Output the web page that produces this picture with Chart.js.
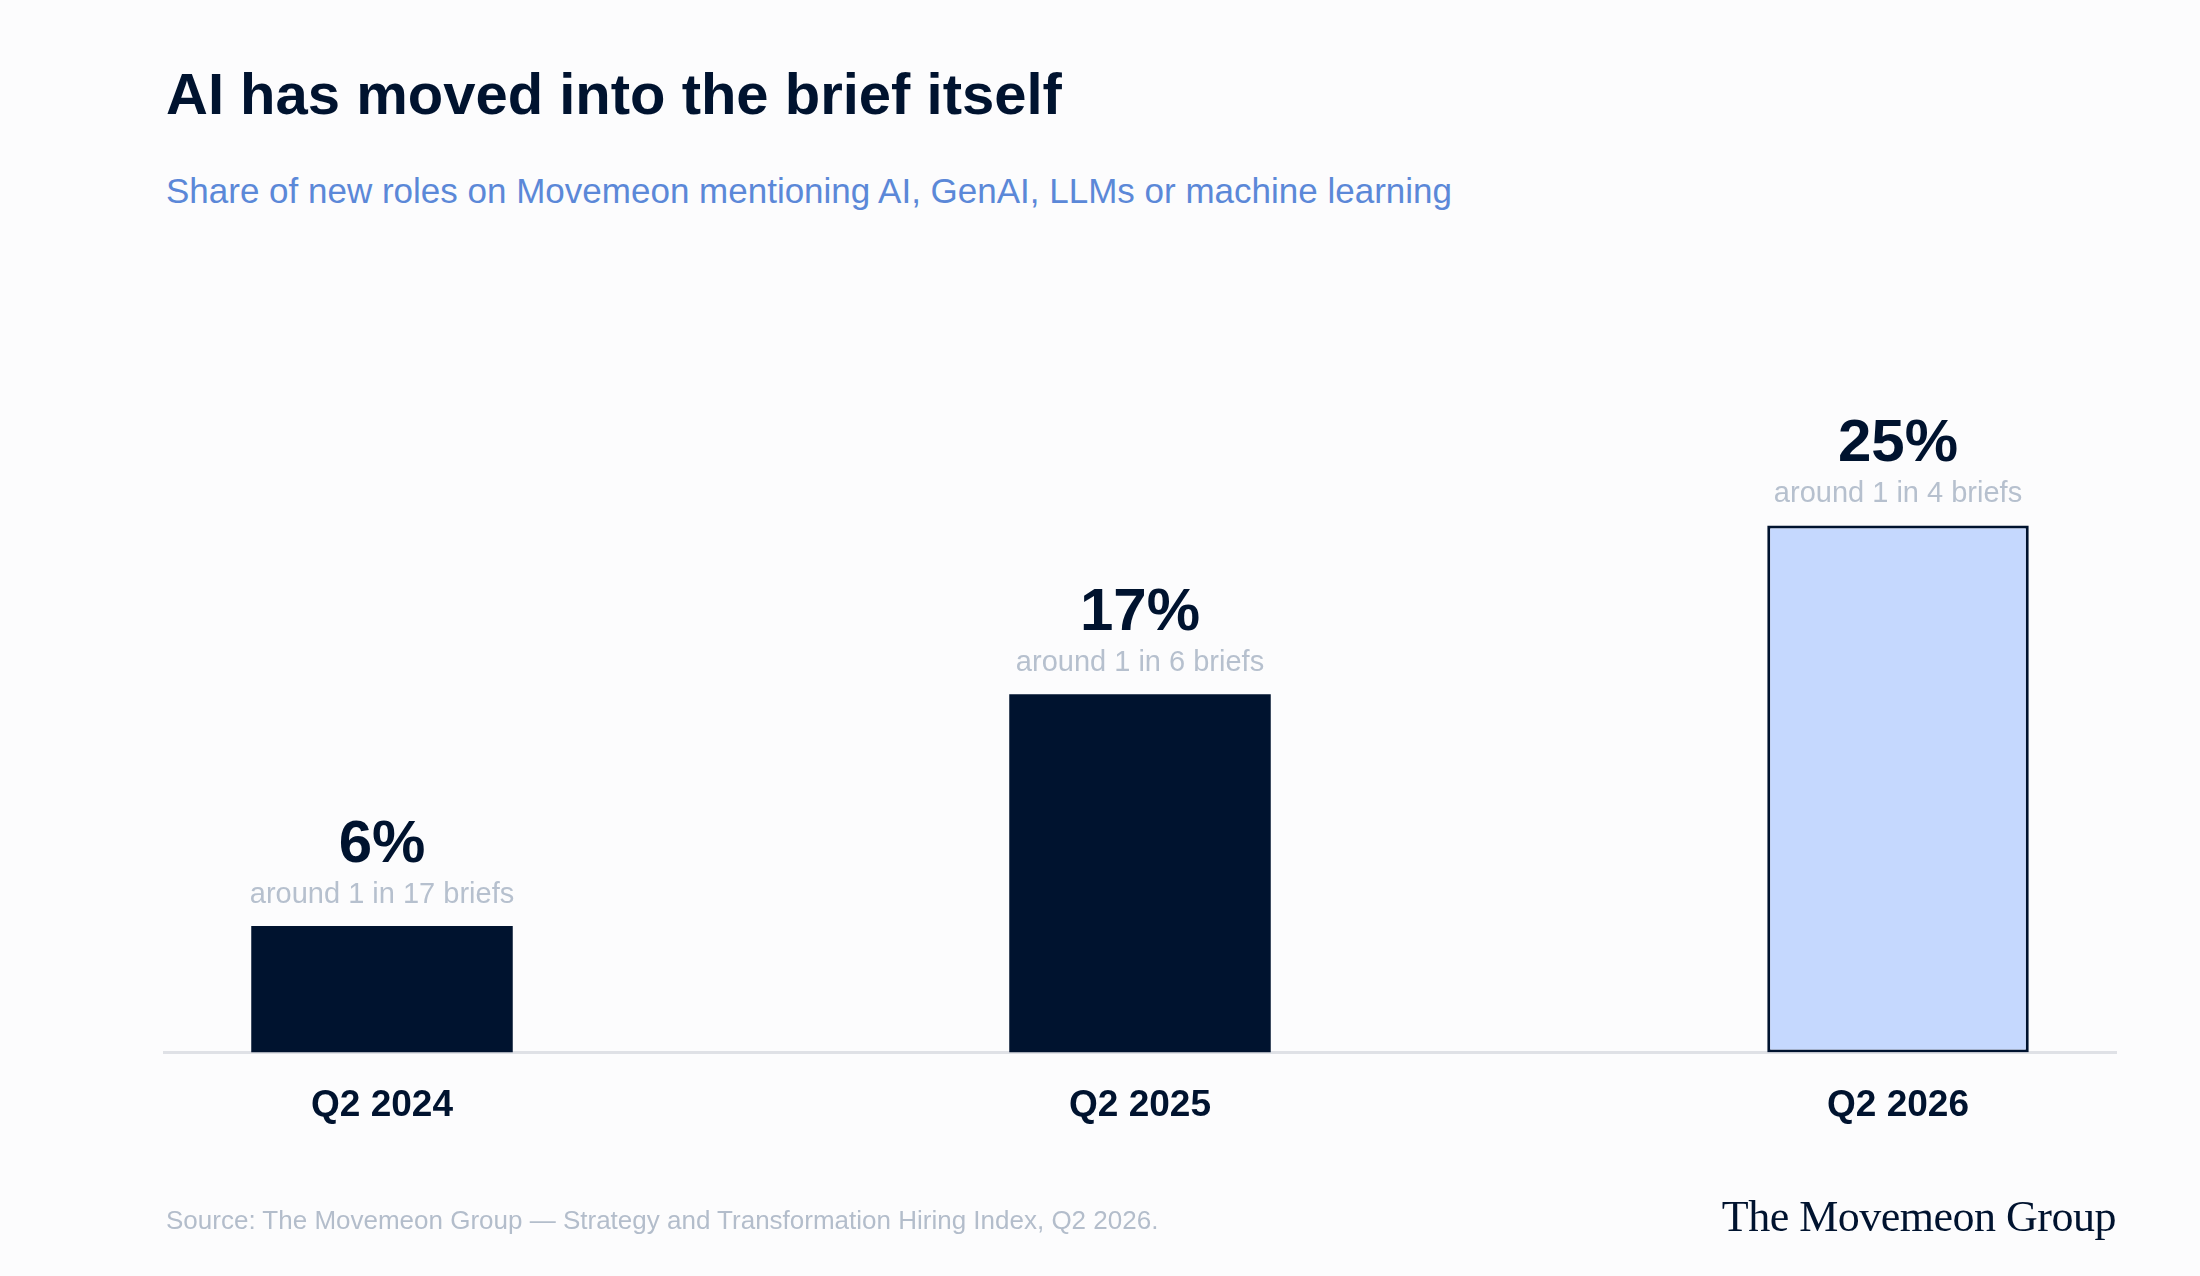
<!DOCTYPE html>
<html>
<head>
<meta charset="utf-8">
<title>AI has moved into the brief itself</title>
<script src="https://cdn.jsdelivr.net/npm/chart.js@4.4.1/dist/chart.umd.min.js"></script>
<style>
  html, body { margin: 0; padding: 0; }
  body {
    width: 2200px; height: 1276px; overflow: hidden; position: relative;
    background: #fcfcfd; font-family: "Liberation Sans", Arial, Helvetica, sans-serif;
  }
  #chart { position: absolute; left: 0; top: 0; }
  .txt { position: absolute; white-space: nowrap; line-height: 1; }
  #title { left: 166px; top: 65px; font-size: 58px; font-weight: 700; color: #00132f; }
  #subtitle { left: 166px; top: 173px; font-size: 35px; color: #5b88d8; }
  #source { left: 166px; top: 1207px; font-size: 26px; color: #b3bdcb; }
  #logo { right: 84px; top: 1195px; font-size: 44px; color: #00132f;
          font-family: "Liberation Serif", "DejaVu Serif", serif; letter-spacing: -0.5px; }
</style>
</head>
<body>
<div class="txt" id="title">AI has moved into the brief itself</div>
<div class="txt" id="subtitle">Share of new roles on Movemeon mentioning AI, GenAI, LLMs or machine learning</div>
<canvas id="chart" width="2200" height="1276"></canvas>
<div class="txt" id="source">Source: The Movemeon Group — Strategy and Transformation Hiring Index, Q2 2026.</div>
<div class="txt" id="logo">The Movemeon Group</div>

<script>
// --- Data ---
const categories = ['Q2 2024', 'Q2 2025', 'Q2 2026'];
const shares = [6, 17, 25]; // % of new roles
const notes = ['around 1 in 17 briefs', 'around 1 in 6 briefs', 'around 1 in 4 briefs'];

const NAVY = '#00132f';
const LIGHT = '#c5d8fe';

// value + note above each bar
const barLabels = {
    id: 'barLabels',
    afterDatasetsDraw(chart) {
        const ctx = chart.ctx;
        const meta = chart.getDatasetMeta(0);
        ctx.save();
        ctx.textAlign = 'center';
        ctx.textBaseline = 'alphabetic';
        meta.data.forEach((bar, i) => {
            ctx.fillStyle = NAVY;
            ctx.font = 'bold 60px "Liberation Sans", Arial, sans-serif';
            ctx.fillText(shares[i] + '%', bar.x, bar.y - 64);
            ctx.fillStyle = '#b6c0ce';
            ctx.font = '29px "Liberation Sans", Arial, sans-serif';
            ctx.fillText(notes[i], bar.x, bar.y - 23);
        });
        ctx.restore();
    }
};

new Chart(document.getElementById('chart'), {
    type: 'bar',
    data: {
        datasets: [{
            data: shares.map((v, i) => ({ x: i, y: v })),
            backgroundColor: shares.map((v, i) => i === shares.length - 1 ? LIGHT : NAVY),
            borderColor: NAVY,
            borderWidth: shares.map((v, i) => i === shares.length - 1 ? 3 : 0),
            borderSkipped: false,
            categoryPercentage: 1,
            barPercentage: 0.345
        }]
    },
    options: {
        responsive: false,
        animation: false,
        devicePixelRatio: 1,
        layout: { padding: { left: 164, right: 84, top: 420, bottom: 125 } },
        plugins: {
            legend: { display: false },
            tooltip: { enabled: false }
        },
        scales: {
            x: {
                type: 'linear',
                offset: false,
                min: -0.2876,
                max: 2.2876,
                grid: { display: false },
                border: { display: true, color: '#dfe1e6', width: 3 },
                afterBuildTicks: scale => {
                    scale.ticks = categories.map((c, i) => ({ value: i }));
                },
                ticks: {
                    autoSkip: false,
                    maxRotation: 0,
                    padding: 23,
                    color: NAVY,
                    font: { family: '"Liberation Sans", Arial, sans-serif', size: 37, weight: 'bold' },
                    callback: v => categories[v]
                }
            },
            y: {
                display: false,
                min: 0,
                max: 30
            }
        }
    },
    plugins: [barLabels]
});
</script>
</body>
</html>
